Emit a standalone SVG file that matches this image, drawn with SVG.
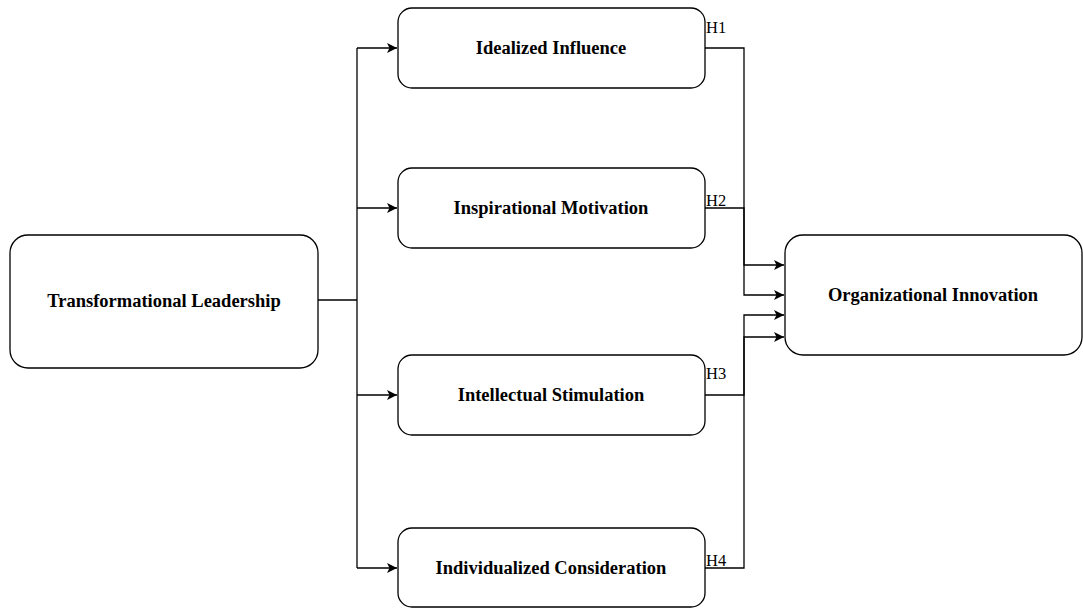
<svg xmlns="http://www.w3.org/2000/svg" width="1083" height="608" viewBox="0 0 1083 608">
<style>
.box{fill:#fff;stroke:#000;stroke-width:1.3}
.lbl{font-family:"Liberation Serif",serif;font-weight:bold;font-size:18.5px;fill:#000;text-anchor:middle;dominant-baseline:central}
.h{font-family:"Liberation Serif",serif;font-size:16.5px;fill:#000}
.ln{fill:none;stroke:#000;stroke-width:1.3}
</style>
<defs>
<marker id="arr" viewBox="0 0 10 10" refX="10" refY="5" markerWidth="10" markerHeight="10" markerUnits="userSpaceOnUse" orient="auto">
<path d="M0,0 L10,5 L0,10 L2.5,5 Z" fill="#000"/>
</marker>
</defs>
<rect width="1083" height="608" fill="#fff"/>
<g id="connectors">
<path class="ln" d="M318,300 H357"/>
<path class="ln" d="M357,48 V568"/>
<path class="ln" d="M357,48 H397" marker-end="url(#arr)"/>
<path class="ln" d="M357,208 H397" marker-end="url(#arr)"/>
<path class="ln" d="M357,395 H397" marker-end="url(#arr)"/>
<path class="ln" d="M357,568 H397" marker-end="url(#arr)"/>
<path class="ln" d="M705,48 H744 V295 H784" marker-end="url(#arr)"/>
<path class="ln" d="M705,208 H744 V265 H784" marker-end="url(#arr)"/>
<path class="ln" d="M705,395 H744 V337 H784" marker-end="url(#arr)"/>
<path class="ln" d="M705,568 H744 V315 H784" marker-end="url(#arr)"/>
<text class="h" x="706" y="33">H1</text>
<text class="h" x="706" y="206">H2</text>
<text class="h" x="706" y="379">H3</text>
<text class="h" x="706" y="566">H4</text>
</g>
<g id="transformational-leadership">
<rect class="box" x="10" y="235" width="308" height="133" rx="18"/>
<text class="lbl" x="164" y="301">Transformational Leadership</text>
</g>
<g id="idealized-influence">
<rect class="box" x="398" y="8" width="307" height="80" rx="14"/>
<text class="lbl" x="551" y="48">Idealized Influence</text>
</g>
<g id="inspirational-motivation">
<rect class="box" x="398" y="168" width="307" height="80" rx="14"/>
<text class="lbl" x="551" y="208">Inspirational Motivation</text>
</g>
<g id="intellectual-stimulation">
<rect class="box" x="398" y="355" width="307" height="80" rx="14"/>
<text class="lbl" x="551" y="395">Intellectual Stimulation</text>
</g>
<g id="individualized-consideration">
<rect class="box" x="398" y="528" width="307" height="79" rx="14"/>
<text class="lbl" x="551" y="568">Individualized Consideration</text>
</g>
<g id="organizational-innovation">
<rect class="box" x="785" y="235" width="297" height="120" rx="18"/>
<text class="lbl" x="933" y="295">Organizational Innovation</text>
</g>
</svg>
